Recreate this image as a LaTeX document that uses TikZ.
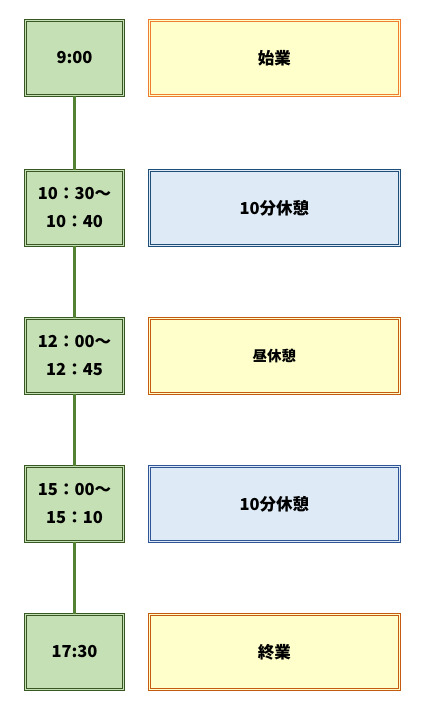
\documentclass[tikz,border=0pt]{standalone}
\usepackage{fontspec}
\setmainfont{Noto Sans CJK JP}
\usepackage{tikz}
\definecolor{qqgrfill}{HTML}{C5E0B4}
\definecolor{qqgrline}{HTML}{385723}
\definecolor{qqgrconn}{HTML}{548235}
\definecolor{ffyefill}{HTML}{FFFFCC}
\definecolor{fforange}{HTML}{ED7D31}
\definecolor{ccorange}{HTML}{C55A11}
\definecolor{ddblfill}{HTML}{DEEBF7}
\definecolor{qqbldark}{HTML}{1F4E79}
\definecolor{qqblmid}{HTML}{2F5597}
\tikzstyle{every node}=[font=\fontsize{16.5}{28}\selectfont\bfseries]
\tikzstyle{timebox}=[draw=qqgrline,fill=qqgrfill,double=qqgrfill,line width=0.8pt,double distance=1.2pt,minimum width=98pt,minimum height=75pt,align=center,inner sep=0pt]
\tikzstyle{eventbox}=[fill=ffyefill,double=ffyefill,line width=0.8pt,double distance=1.2pt,minimum width=250pt,minimum height=75pt,inner sep=0pt]
\tikzstyle{breakbox}=[eventbox,fill=ddblfill,double=ddblfill]
\tikzstyle{conn}=[line width=3pt,color=qqgrconn]

\begin{document}
\begin{tikzpicture}[line join=miter,x=1pt,y=-1pt]
\useasboundingbox (0,0) rectangle (426,714);
% time column
\node[timebox] (t1) at (74.5,58) {9:00};
\node[timebox] (t2) at (74.5,208) {10：30～\\10：40};
\node[timebox] (t3) at (74.5,356) {12：00～\\12：45};
\node[timebox] (t4) at (74.5,504) {15：00～\\15：10};
\node[timebox] (t5) at (74.5,652) {17:30};
\draw [conn] (t1) -- (t2);
\draw [conn] (t2) -- (t3);
\draw [conn] (t3) -- (t4);
\draw [conn] (t4) -- (t5);
% events
\node[eventbox,draw=fforange] (e1) at (274.3,58) {始業};
\node[breakbox,draw=qqbldark] (e2) at (274.3,208) {10分休憩};
\node[eventbox,draw=ccorange,font=\fontsize{14.5}{20}\selectfont\bfseries] (e3) at (274.3,356) {昼休憩};
\node[breakbox,draw=qqblmid] (e4) at (274.3,504) {10分休憩};
\node[eventbox,draw=ccorange] (e5) at (274.3,652) {終業};
\end{tikzpicture}
\end{document}
